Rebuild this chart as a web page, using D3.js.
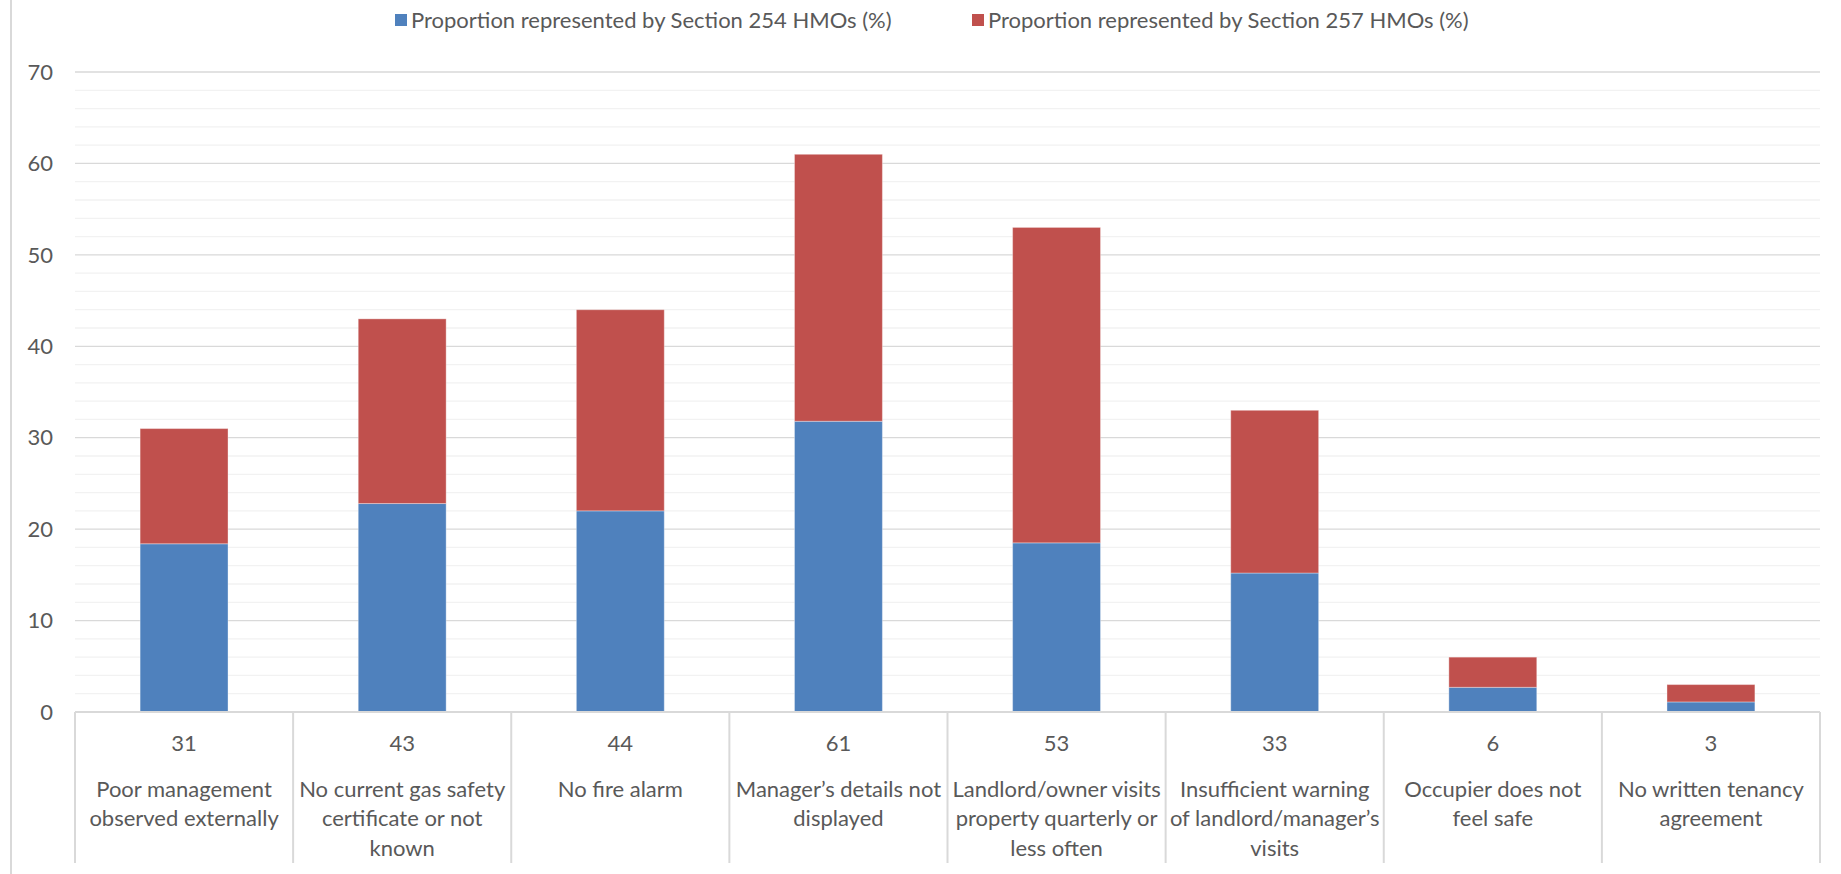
<!DOCTYPE html>
<html>
<head>
<meta charset="utf-8">
<script src="https://cdn.jsdelivr.net/npm/d3@7"></script>
<style>
  html, body { margin: 0; padding: 0; background: #fff; }
  svg text { font-family: Lato, "Open Sans", sans-serif; fill: #595959; }
</style>
</head>
<body>
<svg id="chart" width="1841" height="874"></svg>
<script>
// chart values
const categories = [
  ["Poor management", "observed externally"],
  ["No current gas safety", "certificate or not", "known"],
  ["No fire alarm"],
  ["Manager\u2019s details not", "displayed"],
  ["Landlord/owner visits", "property quarterly or", "less often"],
  ["Insufficient warning", "of landlord/manager\u2019s", "visits"],
  ["Occupier does not", "feel safe"],
  ["No written tenancy", "agreement"]
];
const totals = [31, 43, 44, 61, 53, 33, 6, 3];
const section254 = [18.4, 22.8, 22.0, 31.8, 18.5, 15.2, 2.7, 1.1];
const section257 = [12.6, 20.2, 22.0, 29.2, 34.5, 17.8, 3.3, 1.9];
const seriesNames = ["Proportion represented by Section 254 HMOs (%)", "Proportion represented by Section 257 HMOs (%)"];
const colors = ["#4f81bd", "#c0504d"];
const yTicks = [0, 10, 20, 30, 40, 50, 60, 70];

const W = 1841, H = 874;
const plot = {left: 75, right: 1820, top: 72, bottom: 712};
const fs = "22px";

const svg = d3.select("#chart");

// outer chart border (only left edge visible)
svg.append("line")
  .attr("x1", 11).attr("x2", 11).attr("y1", 0).attr("y2", H)
  .attr("stroke", "#d9d9d9").attr("stroke-width", 2);

const idx = d3.range(categories.length);
const x = d3.scaleBand().domain(idx).range([plot.left, plot.right])
  .paddingInner(0.597).paddingOuter(0.2985);
const xcat = d3.scaleBand().domain(idx).range([plot.left, plot.right]);
const y = d3.scaleLinear().domain([0, 70]).range([plot.bottom, plot.top]);

// gridlines, minor every 2, major every 10
const minor = d3.range(2, 70, 2).filter(v => v % 10 !== 0);
svg.append("g").selectAll("line").data(minor).join("line")
  .attr("x1", plot.left).attr("x2", plot.right)
  .attr("y1", d => y(d)).attr("y2", d => y(d))
  .attr("stroke", "#f2f2f2").attr("stroke-width", 1.3);
svg.append("g").selectAll("line").data(yTicks.slice(1)).join("line")
  .attr("x1", plot.left).attr("x2", plot.right)
  .attr("y1", d => y(d)).attr("y2", d => y(d))
  .attr("stroke", "#d9d9d9").attr("stroke-width", 1.3);

// y labels
svg.append("g").selectAll("text").data(yTicks).join("text")
  .attr("x", 53).attr("y", d => y(d)).attr("dy", "0.35em")
  .attr("text-anchor", "end").style("font-size", fs)
  .text(d => d);

// stacked bars
const rows = idx.map(i => ({i, s254: section254[i], s257: section257[i]}));
const stacked = d3.stack().keys(["s254", "s257"])(rows);
svg.append("g").selectAll("g").data(stacked).join("g")
  .attr("fill", (d, k) => colors[k])
  .selectAll("rect").data(d => d).join("rect")
  .attr("x", d => x(d.data.i))
  .attr("width", x.bandwidth())
  .attr("y", d => y(d[1]))
  .attr("height", d => y(d[0]) - y(d[1]))
  .attr("stroke", "#fff").attr("stroke-opacity", 0.35).attr("stroke-width", 1);

// category axis: baseline + separators
svg.append("line")
  .attr("x1", plot.left).attr("x2", plot.right)
  .attr("y1", plot.bottom).attr("y2", plot.bottom)
  .attr("stroke", "#d9d9d9").attr("stroke-width", 2);
const seps = idx.map(i => xcat(i)).concat([plot.right]);
svg.append("g").selectAll("line").data(seps).join("line")
  .attr("x1", d => d).attr("x2", d => d)
  .attr("y1", plot.bottom).attr("y2", 863)
  .attr("stroke", "#d9d9d9").attr("stroke-width", 2);

// totals row and category names
const lab = svg.append("g").selectAll("g").data(idx).join("g")
  .attr("transform", i => `translate(${xcat(i) + xcat.bandwidth() / 2},0)`);
lab.append("text")
  .attr("y", 743).attr("dy", "0.35em").attr("text-anchor", "middle")
  .style("font-size", fs)
  .text(i => totals[i]);
lab.each(function(i) {
  d3.select(this).selectAll("text.cat").data(categories[i]).join("text")
    .attr("class", "cat")
    .attr("y", (d, k) => 789 + k * 29.5).attr("dy", "0.35em")
    .attr("text-anchor", "middle").style("font-size", fs)
    .text(d => d);
});

// legend
const legendX = [395, 972];
const lg = svg.append("g").selectAll("g").data(seriesNames).join("g")
  .attr("transform", (d, k) => `translate(${legendX[k]},20)`);
lg.append("rect").attr("x", 0).attr("y", -6).attr("width", 12).attr("height", 12)
  .attr("fill", (d, k) => colors[k]);
lg.append("text").attr("x", 16).attr("dy", "0.35em")
  .style("font-size", fs).text(d => d);
</script>
</body>
</html>
